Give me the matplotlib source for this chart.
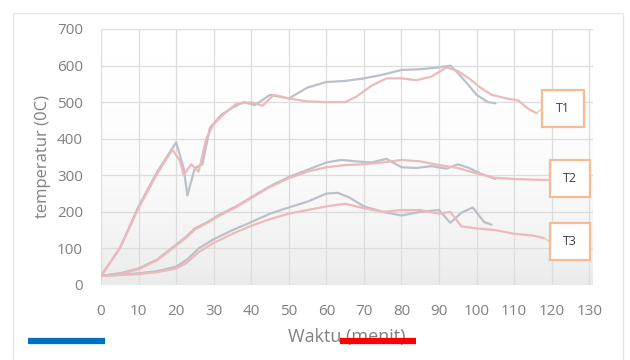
import numpy as np
import matplotlib
matplotlib.use("Agg")
from matplotlib import pyplot as plt
from matplotlib.patches import Rectangle
from matplotlib.lines import Line2D

plt.rcParams['font.family'] = ['Open Sans', 'DejaVu Sans']

# temperature readings, two runs per thermocouple
t1a_t = [0, 5, 10, 15, 20, 22, 23, 25, 27, 29, 32, 35, 38, 41, 45, 50, 55, 60, 65, 70, 75, 80, 85, 90, 93, 95, 98, 100, 103, 105]
t1a_v = [25, 100, 215, 310, 390, 320, 245, 320, 330, 430, 465, 485, 500, 492, 520, 510, 540, 555, 558, 565, 575, 588, 590, 595, 600, 580, 545, 520, 500, 497]
t1b_t = [0, 5, 10, 15, 19, 21, 22, 24, 26, 28, 30, 33, 36, 40, 43, 46, 50, 55, 60, 65, 68, 72, 76, 80, 84, 88, 92, 95, 98, 101, 104, 108, 111, 114, 116]
t1b_v = [25, 100, 210, 305, 370, 340, 300, 330, 310, 400, 440, 470, 495, 500, 490, 520, 510, 502, 500, 500, 515, 545, 565, 565, 560, 570, 595, 585, 565, 540, 520, 510, 505, 480, 470]

t2a_t = [0, 5, 10, 15, 20, 23, 25, 28, 32, 36, 40, 45, 50, 55, 60, 64, 68, 72, 76, 80, 84, 88, 92, 95, 98, 101, 105]
t2a_v = [25, 32, 45, 70, 110, 135, 155, 170, 195, 215, 240, 270, 295, 315, 335, 342, 338, 335, 345, 322, 320, 325, 318, 330, 320, 305, 290]
t2b_t = [0, 5, 10, 15, 20, 23, 25, 28, 32, 36, 40, 45, 50, 55, 60, 65, 70, 75, 80, 85, 90, 95, 100, 105, 110, 115, 119]
t2b_v = [25, 30, 43, 68, 108, 132, 152, 168, 192, 213, 238, 268, 292, 310, 322, 328, 330, 335, 342, 338, 328, 320, 305, 293, 290, 288, 287]

t3a_t = [0, 5, 10, 15, 20, 23, 26, 30, 35, 40, 45, 50, 55, 60, 63, 66, 70, 75, 80, 85, 90, 93, 96, 99, 102, 104]
t3a_v = [25, 28, 32, 38, 50, 70, 100, 125, 150, 172, 195, 212, 228, 250, 252, 240, 215, 200, 190, 200, 205, 170, 198, 212, 172, 165]
t3b_t = [0, 5, 10, 15, 20, 23, 26, 30, 35, 40, 45, 50, 55, 60, 65, 70, 75, 80, 85, 90, 93, 96, 100, 105, 110, 115, 118]
t3b_v = [25, 27, 30, 35, 45, 62, 90, 115, 140, 162, 180, 195, 205, 215, 222, 210, 200, 205, 205, 195, 200, 160, 155, 150, 140, 135, 128]

labels = ['T1', 'T2', 'T3']
# label box: left, bottom, right, top (data units)
label_boxes = [(117.5, 432, 128.5, 533), (119.6, 241, 130.2, 342), (119.6, 68, 130.2, 169)]

grey = '#bcc0c8'
pink = '#edb9bd'

fig = plt.figure(figsize=(6.3, 3.6), dpi=100)
fig.patch.set_facecolor('white')
fig.add_artist(Rectangle((13 / 630, -0.01), 610 / 630, 1 - 13 / 360 + 0.01,
                         transform=fig.transFigure, fill=False,
                         edgecolor='#e6e6e6', lw=1))

ax = fig.add_axes([101 / 630, 1 - 285 / 360, 492 / 630, 256 / 360])

# soft shading toward the bottom of the plot area
grad = np.linspace(0, 1, 256).reshape(-1, 1) ** 2.5
ax.imshow(grad, extent=(0, 131, 0, 700), aspect='auto', origin='upper',
          cmap=matplotlib.colors.LinearSegmentedColormap.from_list('g', ['#ffffff', '#ebebeb']),
          zorder=0)

for tt, vv, c in [(t1a_t, t1a_v, grey), (t1b_t, t1b_v, pink),
                  (t2a_t, t2a_v, grey), (t2b_t, t2b_v, pink),
                  (t3a_t, t3a_v, grey), (t3b_t, t3b_v, pink)]:
    ax.plot(tt, vv, color=c, lw=1.6, zorder=3, solid_capstyle='round')

ends = [(t1b_t[-1], t1b_v[-1]), (t2b_t[-1], t2b_v[-1]), (t3b_t[-1], t3b_v[-1])]
for lab, (x0, y0, x1, y1), (ex, ey) in zip(labels, label_boxes, ends):
    ax.plot([ex, x0], [ey, (y0 + y1) / 2], color='#f2c9a8', lw=1, zorder=3, clip_on=False)
    ax.add_patch(Rectangle((x0, y0), x1 - x0, y1 - y0, facecolor='white',
                           edgecolor='#f3bc94', lw=1.6, zorder=4, clip_on=False))
    ax.text((x0 + x1) / 2, (y0 + y1) / 2, lab, ha='center', va='center',
            fontsize=9, color='#404040', zorder=5)

ax.set_xlim(0, 131)
ax.set_ylim(0, 700)
ax.set_xticks(range(0, 131, 10))
ax.set_yticks(range(0, 701, 100))
ax.grid(True, color='#dcdcdc', lw=0.9, zorder=1)
ax.set_axisbelow(True)
for s in ax.spines.values():
    s.set_visible(False)
ax.tick_params(length=0, labelsize=11, labelcolor='#808080')
ax.tick_params(axis='x', pad=14)
ax.tick_params(axis='y', pad=13)
ax.set_xlabel('Waktu (menit)', fontsize=13, color='#808080', labelpad=6)
ax.set_ylabel('temperatur (0C)', fontsize=12, color='#808080', labelpad=4)

# coloured strokes under the axis
fig.add_artist(Line2D([28 / 630, 105 / 630], [1 - 341 / 360] * 2, color='#0070c0', lw=4.5,
                      solid_capstyle='butt'))
fig.add_artist(Line2D([340 / 630, 416 / 630], [1 - 341 / 360] * 2, color='#ff0000', lw=4.5,
                      solid_capstyle='butt'))

fig.savefig('out.png', dpi=100)
